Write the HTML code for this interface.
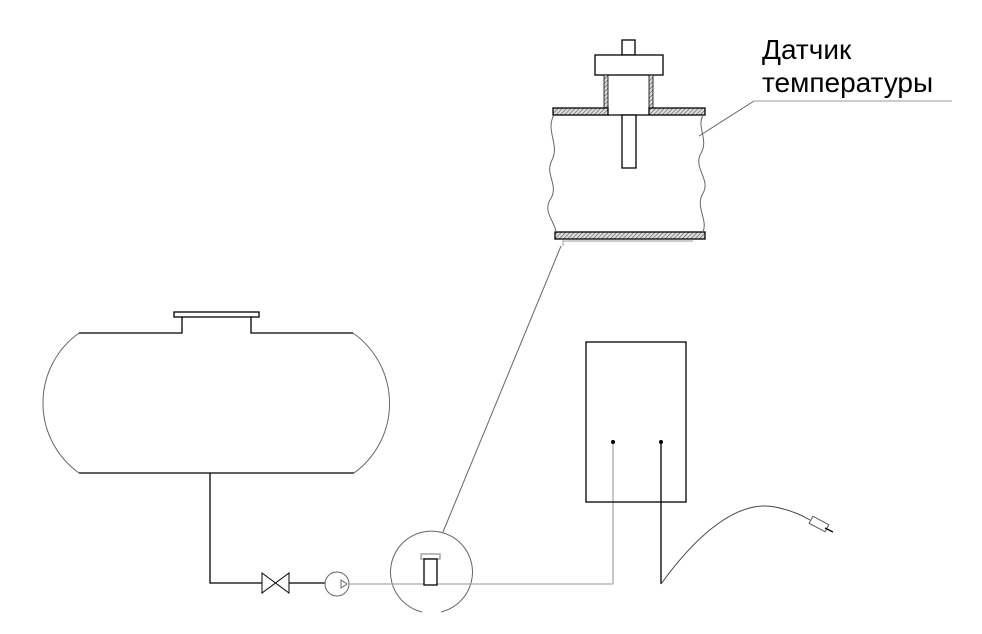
<!DOCTYPE html>
<html><head><meta charset="utf-8"><style>
body{margin:0;background:#fff}
svg{display:block}
</style></head><body>
<svg width="982" height="634" viewBox="0 0 982 634" xmlns="http://www.w3.org/2000/svg">
<defs>
<pattern id="h" width="3" height="3" patternUnits="userSpaceOnUse" patternTransform="rotate(45)">
<rect width="3" height="3" fill="#ddd"/><line x1="0" y1="0" x2="0" y2="3" stroke="#555" stroke-width="1.2"/>
</pattern>
</defs>
<g fill="none" stroke="#000" stroke-width="1.3">
<rect x="622" y="40" width="13" height="15" fill="#fff"/>
<rect x="595" y="55" width="68" height="20" fill="#fff"/>
<rect x="604" y="75" width="4" height="35" fill="url(#h)" stroke-width="0.8"/>
<rect x="649" y="75" width="4" height="35" fill="url(#h)" stroke-width="0.8"/>
<rect x="553" y="108" width="55" height="7" fill="url(#h)"/>
<rect x="649" y="108" width="56" height="7" fill="url(#h)"/>
<line x1="608" y1="115" x2="649" y2="115"/>
<rect x="622" y="115" width="14" height="53" fill="#fff"/>
<rect x="555" y="232" width="150" height="7" fill="url(#h)"/>
</g>
<g fill="none" stroke="#666" stroke-width="1">
<path d="M554 115 C 545 130, 560 145, 552 160 C 544 175, 560 185, 550 200 C 543 212, 555 222, 556 232"/>
<path d="M703 115 C 696 128, 710 140, 700 155 C 694 170, 712 180, 702 195 C 696 208, 708 220, 703 232"/>
<path d="M563 246 L563 241 L693 241" stroke="#999"/>
<line x1="561" y1="246" x2="443" y2="532"/>
<line x1="699" y1="136" x2="754" y2="101"/>
<line x1="754" y1="101" x2="952" y2="101" stroke="#999"/>
</g>
<text x="762" y="59" font-family="Liberation Sans, sans-serif" font-size="28" fill="#000">Датчик</text>
<text x="762" y="92" font-family="Liberation Sans, sans-serif" font-size="28" fill="#000">температуры</text>
<g fill="none" stroke="#000" stroke-width="1.3">
<path d="M79 333 L182 333 L182 317 M251 317 L251 333 L353 333"/>
<rect x="174" y="312" width="85" height="5" fill="#fff"/>
<line x1="79" y1="473" x2="354" y2="473"/>
<path d="M210 473 L210 583 L262 583"/>
<path d="M262 573 L289 593 L289 573 L262 593 Z" stroke-width="1"/>
<line x1="289" y1="583" x2="325" y2="583"/>
</g>
<g fill="none" stroke="#666" stroke-width="1">
<path d="M79 333 A 86 86 0 0 0 79 473"/>
<path d="M353 333 A 86 86 0 0 1 354 473"/>
<circle cx="337" cy="584" r="12"/>
<path d="M341 580 L347 584 L341 588 Z"/>
<path d="M422 612 A 41 41 0 1 1 441 612"/>
</g>
<g stroke="#aaa" stroke-width="1.3" fill="none">
<line x1="349" y1="584" x2="613" y2="584"/>
<line x1="613" y1="442" x2="613" y2="584"/>
<rect x="421" y="554" width="19" height="5" fill="#fff" stroke="#999"/>
</g>
<rect x="424" y="559" width="13" height="26" fill="#fff" stroke="#000" stroke-width="1.3"/>
<rect x="586" y="342" width="100" height="160" fill="none" stroke="#000" stroke-width="1.3"/>
<circle cx="613" cy="442" r="2" fill="#000"/>
<circle cx="661" cy="442" r="2" fill="#000"/>
<line x1="661" y1="442" x2="661" y2="584" stroke="#000" stroke-width="1.3"/>
<path d="M661 584 C 700 530, 740 500, 775 507 C 790 510, 800 514, 810 520" fill="none" stroke="#444" stroke-width="1"/>
<g transform="rotate(28 819 524)">
<rect x="810" y="520" width="18" height="8" fill="#fff" stroke="#555" stroke-width="1"/>
</g>
<line x1="825" y1="528" x2="833" y2="532" stroke="#000" stroke-width="1.3"/>
</svg>
</body></html>
